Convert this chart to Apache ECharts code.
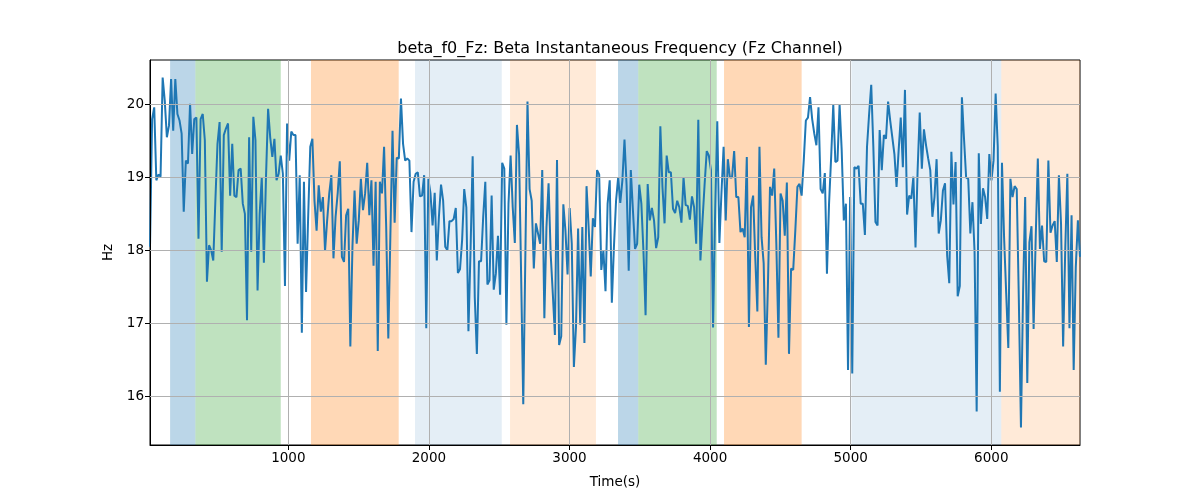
<!DOCTYPE html>
<html>
<head>
<meta charset="utf-8">
<script src="https://cdn.jsdelivr.net/npm/echarts@6/dist/echarts.min.js"></script>
<style>html,body{margin:0;padding:0;background:#fff}#chart{width:1200px;height:500px}</style>
</head>
<body>
<div id="chart"></div>
<script>
// Sampling grid of the series (seconds)
const T_START = 16;
const T_STEP = 15;

// Beta instantaneous frequency (Hz)
const freqHz = [
18.05,19.80,19.96,18.96,19.04,19.01,20.37,20.05,19.55,19.71,20.35,19.64,20.35,19.87,19.78,19.60,18.53,19.23,19.19,20.01,19.32,19.80,19.82,18.16,19.80,19.87,19.51,17.57,18.07,18.00,17.86,18.68,19.46,19.76,17.98,19.58,19.67,19.74,18.75,19.46,18.75,18.73,19.10,
19.12,18.64,18.50,17.04,19.55,17.98,19.83,19.51,17.45,18.50,19.00,17.83,19.00,19.94,19.55,19.28,19.53,18.96,19.05,19.30,19.05,17.51,19.74,19.23,19.63,19.58,19.58,18.09,19.03,16.87,18.94,17.43,18.46,19.42,19.53,18.68,18.27,18.89,18.53,18.73,17.99,18.41,18.78,19.03,
17.89,18.46,18.78,19.22,17.91,17.84,18.48,18.57,16.68,18.05,18.82,18.09,18.41,18.98,18.55,18.78,19.20,18.48,18.96,17.79,18.94,16.62,18.94,18.78,19.42,18.32,16.79,18.23,19.64,18.38,19.27,19.26,20.08,19.46,19.23,19.26,19.23,18.25,18.94,19.05,19.07,18.74,18.75,
19.03,16.93,18.98,18.78,18.34,18.79,17.86,18.46,18.90,18.68,18.05,18.00,18.40,18.40,18.43,18.58,17.69,17.74,18.14,18.84,18.59,16.89,18.00,19.29,17.36,16.58,17.85,17.85,18.46,18.94,17.53,17.59,18.75,17.46,17.68,18.20,17.39,19.20,19.12,16.98,18.64,19.30,18.59,18.10,
19.72,19.32,17.63,15.89,17.95,20.04,18.84,18.68,17.75,18.37,18.23,18.09,19.10,17.07,18.32,18.92,17.95,17.41,16.84,19.24,16.70,16.82,18.63,18.27,17.67,18.58,18.09,16.40,16.95,18.30,16.98,18.32,16.73,18.88,18.32,17.64,18.44,18.32,19.10,19.04,17.73,18.00,17.44,18.64,
18.96,17.28,18.05,18.68,19.00,18.65,18.96,19.52,18.89,17.72,19.10,18.55,18.02,18.09,18.90,18.64,17.98,17.11,18.91,18.41,18.58,18.41,18.03,18.18,19.70,18.87,18.37,19.30,19.07,19.07,18.57,18.51,18.68,18.59,18.38,19.00,18.62,18.61,18.42,18.74,18.59,18.09,19.79,
17.86,18.41,18.91,19.36,19.30,19.10,16.94,18.55,19.77,18.10,18.80,19.42,18.41,19.25,19.00,19.00,19.36,18.73,18.73,18.25,18.30,18.18,19.28,16.95,18.59,18.75,17.91,17.16,19.42,18.18,17.82,16.43,17.50,18.87,18.75,19.12,18.09,16.80,18.78,18.68,18.20,18.93,16.58,17.75,
17.73,18.27,18.87,18.91,18.75,19.23,19.78,19.82,20.10,19.80,19.60,19.44,19.96,18.84,18.78,19.06,17.68,18.64,19.28,20.00,19.21,19.23,20.00,19.37,18.41,18.64,16.36,18.73,16.31,19.14,19.12,19.16,18.64,18.64,18.21,19.42,19.87,20.27,19.42,18.39,18.34,19.65,19.10,19.58,
19.53,20.04,19.78,19.55,19.32,18.87,19.37,19.82,19.14,20.20,18.49,18.75,18.71,19.01,18.04,19.10,19.89,19.12,19.66,19.44,19.26,19.10,18.46,18.73,19.25,18.23,18.41,18.82,18.92,17.93,17.55,19.35,18.63,19.21,17.37,17.51,20.10,19.53,19.00,18.98,18.23,18.66,17.98,
15.79,19.33,18.36,18.85,18.73,18.43,19.32,18.96,19.23,20.15,19.42,16.06,19.20,18.18,17.41,16.66,18.98,18.73,18.88,18.84,17.32,15.57,17.41,18.73,16.18,18.11,18.33,16.92,18.18,19.26,18.02,18.34,17.85,17.84,19.23,18.24,18.34,18.40,17.84,19.03,18.37,16.68,18.01,19.05,16.93,18.48,16.36,17.77,18.41,17.91
];

// Shaded intervals (seconds)
const bandStart = [159, 339, 1161, 1901, 2577, 3345, 3489, 4099, 5005, 6071];
const bandEnd   = [339, 946, 1785, 2518, 3188, 3489, 4047, 4651, 6071, 6631];
const bandKind  = ['blue','green','orange','lightblue','lightorange','blue','green','orange','lightblue','lightorange'];

// Tick labels
const xTicks = [1000, 2000, 3000, 4000, 5000, 6000];
const yTicks = [16, 17, 18, 19, 20];

const X_MIN = 16, X_MAX = 6631, Y_MIN = 15.33, Y_MAX = 20.61;

const bandColor = {
  blue: 'rgba(31,119,180,0.3)',
  green: 'rgba(44,160,44,0.3)',
  orange: 'rgba(255,127,14,0.3)',
  lightblue: 'rgba(31,119,180,0.12)',
  lightorange: 'rgba(255,127,14,0.16)'
};

const lineData = freqHz.map((v, i) => [T_START + i * T_STEP, v]);
const FONT = 'DejaVu Sans';

const chart = echarts.init(document.getElementById('chart'), null, {renderer: 'canvas'});
chart.setOption({
  animation: false,
  backgroundColor: '#ffffff',
  title: {
    text: 'beta_f0_Fz: Beta Instantaneous Frequency (Fz Channel)',
    left: 615, top: 36, textAlign: 'center',
    textStyle: {fontFamily: FONT, fontSize: 16, fontWeight: 'normal', color: '#000'}
  },
  grid: {left: 150, right: 120, top: 60, bottom: 55, show: true, borderColor: '#000', borderWidth: 1, backgroundColor: 'transparent'},
  xAxis: {
    type: 'value', min: X_MIN, max: X_MAX, z: 4,
    name: 'Time(s)', nameLocation: 'middle', nameGap: 30,
    nameTextStyle: {fontFamily: FONT, fontSize: 13.5, color: '#000'},
    axisLine: {show: true, lineStyle: {color: '#000', width: 1}},
    axisTick: {show: true, customValues: xTicks, length: 5, lineStyle: {color: '#000'}},
    axisLabel: {customValues: xTicks, formatter: v => String(v), fontFamily: FONT, fontSize: 13.5, color: '#000', margin: 6},
    splitLine: {show: false}
  },
  yAxis: {
    type: 'value', min: Y_MIN, max: Y_MAX, z: 4,
    name: 'Hz', nameLocation: 'middle', nameGap: 34, nameRotate: 90,
    nameTextStyle: {fontFamily: FONT, fontSize: 13.5, color: '#000'},
    axisLine: {show: true, lineStyle: {color: '#000', width: 1}},
    axisTick: {show: true, customValues: yTicks, length: 5, lineStyle: {color: '#000'}},
    axisLabel: {customValues: yTicks, formatter: v => String(v), fontFamily: FONT, fontSize: 13.5, color: '#000', margin: 6},
    splitLine: {show: false}
  },
  series: [
    {
      type: 'line', data: [], z: 1, silent: true,
      markArea: {
        silent: true,
        data: bandStart.map((s, i) => [
          {xAxis: s, itemStyle: {color: bandColor[bandKind[i]]}},
          {xAxis: bandEnd[i]}
        ])
      }
    },
    {
      type: 'line', data: [], z: 2, silent: true,
      markLine: {
        silent: true, symbol: ['none', 'none'], animation: false,
        label: {show: false},
        lineStyle: {color: '#b0b0b0', width: 1, type: 'solid'},
        emphasis: {disabled: true},
        data: xTicks.map(v => ({xAxis: v})).concat(yTicks.map(v => ({yAxis: v})))
      }
    },
    {
      type: 'line', data: lineData, z: 3, showSymbol: false, symbol: 'none',
      lineStyle: {color: '#1f77b4', width: 2},
      itemStyle: {color: '#1f77b4'}
    }
  ]
});
</script>
</body>
</html>
